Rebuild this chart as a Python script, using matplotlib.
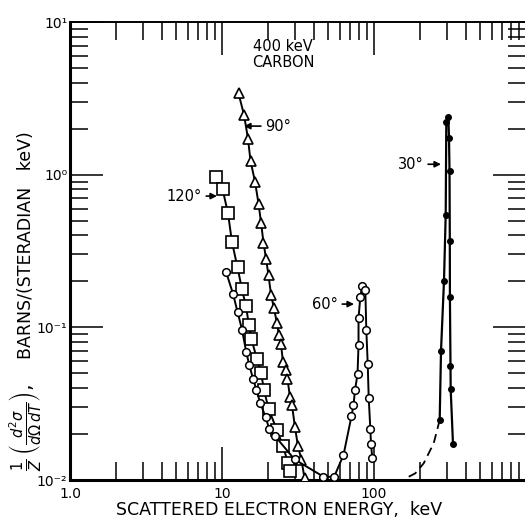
import matplotlib
matplotlib.use("Agg")
import matplotlib.pyplot as plt
from matplotlib.ticker import FixedLocator, NullFormatter, LogLocator, FixedFormatter

# ---- data ----
# 120 deg, open squares
e120 = [9.13, 10.08, 10.95, 11.63, 12.65, 13.54, 14.39, 15.05, 15.63, 17.0,
        18.06, 18.89, 20.23, 23.0, 25.2, 27.2, 28.0]
s120 = [0.960, 0.806, 0.559, 0.362, 0.247, 0.177, 0.137, 0.103, 0.0835, 0.0618,
        0.0504, 0.0390, 0.0293, 0.0212, 0.0167, 0.01286, 0.01154]

# 90 deg, open triangles
e90 = [12.84, 13.95, 14.83, 15.40, 16.49, 17.39, 18.06, 18.75, 19.48, 20.23,
       21.01, 21.98, 23.0, 23.71, 24.45, 25.2, 26.18, 26.97, 28.0, 28.87,
       30.2, 31.6, 33.34, 34.9]
s90 = [3.41, 2.47, 1.72, 1.23, 0.900, 0.646, 0.486, 0.359, 0.282, 0.219,
       0.164, 0.133, 0.106, 0.0887, 0.0774, 0.059, 0.0524, 0.046, 0.0349, 0.0309,
       0.0222, 0.0167, 0.0135, 0.0103]

# 60 deg, open circles
e60 = [10.62, 11.82, 12.65, 13.54, 14.45, 15.12, 16.0, 16.82, 17.86, 19.33,
       20.47, 22.33, 30.0, 46.5, 54.6, 63.0, 71.1, 73.3, 75.0, 77.9,
       79.1, 79.1, 81.3, 83.4, 87.7, 89.0, 90.9, 92.3, 94.6, 95.6, 97.5]
s60 = [0.232, 0.1656, 0.1263, 0.0966, 0.0687, 0.0565, 0.0462, 0.0391, 0.0319, 0.0259,
       0.0216, 0.0194, 0.01365, 0.01051, 0.01047, 0.01457, 0.0262, 0.0309, 0.0388, 0.0493,
       0.0763, 0.1154, 0.1578, 0.1853, 0.1745, 0.0966, 0.0579, 0.0345, 0.0216, 0.0171, 0.01386]

# 30 deg, filled dots
e30 = [270.5, 276.0, 288.7, 296.3, 299.0, 308.3, 311.5, 313.9, 315.3, 315.8,
       318.6, 319.5, 331.0]
s30 = [0.0247, 0.0704, 0.201, 0.548, 2.20, 2.40, 1.74, 1.06, 0.370, 0.158,
       0.0562, 0.0393, 0.0171]

# 30 deg dashed extrapolation
e30d = [169.2, 187.0, 212.3, 247.0, 270.5]
s30d = [0.0105, 0.01106, 0.01286, 0.0174, 0.0247]

xtick_vals = [1, 10, 100]
xtick_labels = ["1.0", "10", "100"]
ytick_vals = [1e-2, 1e-1, 1e0, 1e1]
ytick_labels = ["10\u207b\u00b2", "10\u207b\u00b9", "10\u2070", "10\u00b9"]

# ---- figure ----
W, H = 525, 520
fig = plt.figure(figsize=(W / 100, H / 100), dpi=100)
ax = fig.add_axes([70 / W, 40 / H, 456 / W, 458 / H])
ax.set_xscale("log")
ax.set_yscale("log")
ax.set_xlim(1, 1000)
ax.set_ylim(1e-2, 1e1)

lc = "black"
ax.plot(e120, s120, "-", color=lc, lw=1.4, marker="s", ms=8, mfc="white",
        mec=lc, mew=1.2, clip_on=False, zorder=3)
ax.plot(e90, s90, "-", color=lc, lw=1.4, marker="^", ms=7.5, mfc="white",
        mec=lc, mew=1.2, clip_on=True, zorder=3)
ax.plot(e60, s60, "-", color=lc, lw=1.4, marker="o", ms=5.5, mfc="white",
        mec=lc, mew=1.1, zorder=3)
ax.plot(e30, s30, "-", color=lc, lw=1.6, marker="o", ms=4, mfc=lc,
        mec=lc, zorder=3)
ax.plot(e30d, s30d, "--", color=lc, lw=1.3, dashes=(5, 3), zorder=2)

# annotations
txt_kw = dict(fontsize=10.5, va="center")
arw = dict(arrowstyle="-|>", color="black", lw=1.2, mutation_scale=9,
           shrinkA=1, shrinkB=0)
ax.annotate("90°", xy=(13.96, 2.08), xytext=(19.2, 2.08), ha="left",
            arrowprops=arw, **txt_kw)
ax.annotate("120°", xy=(9.27, 0.724), xytext=(7.39, 0.724), ha="right",
            arrowprops=arw, **txt_kw)
ax.annotate("60°", xy=(73.9, 0.142), xytext=(58.0, 0.142), ha="right",
            arrowprops=arw, **txt_kw)
ax.annotate("30°", xy=(276, 1.17), xytext=(213, 1.17), ha="right",
            arrowprops=arw, **txt_kw)

ax.text(25.2, 6.1, "400 keV\nCARBON", ha="center", va="center",
        fontsize=10.5, linespacing=1.05)

# axes styling
for side in ["left", "bottom"]:
    ax.spines[side].set_linewidth(2.2)
for side in ["top", "right"]:
    ax.spines[side].set_linewidth(1.4)

ax.xaxis.set_major_locator(FixedLocator(xtick_vals + [1000]))
ax.xaxis.set_major_formatter(FixedFormatter(xtick_labels + [""]))
ax.xaxis.set_minor_locator(LogLocator(base=10, subs=range(2, 10)))
ax.xaxis.set_minor_formatter(NullFormatter())
ax.yaxis.set_major_locator(FixedLocator(ytick_vals))
ax.yaxis.set_major_formatter(FixedFormatter(ytick_labels))
ax.yaxis.set_minor_locator(LogLocator(base=10, subs=range(2, 10)))
ax.yaxis.set_minor_formatter(NullFormatter())

ax.tick_params(which="both", direction="in", top=True, right=True,
               width=1.1, labelsize=10, color="black")
ax.tick_params(which="major", length=24)
ax.tick_params(which="minor", length=13)
ax.tick_params(axis="y", which="major", pad=2)
ax.tick_params(axis="x", which="major", pad=5)

ax.set_xlabel("SCATTERED ELECTRON ENERGY,  keV", fontsize=12.5)
ax.xaxis.set_label_coords((279 - 70) / 456, -0.045, transform=ax.transAxes)
ax.xaxis.label.set_va("top")

# y label: formula part and text part
fig.text(25 / W, 1 - 428 / H,
         r"$\frac{1}{Z}\,\left(\frac{d^2\sigma}{d\Omega\,dT}\right),$",
         rotation=90, ha="center", va="center", fontsize=15)
fig.text(26 / W, 1 - 245 / H, "BARNS/(STERADIAN   keV)",
         rotation=90, ha="center", va="center", fontsize=12.5)

fig.savefig("out.png", dpi=100)
